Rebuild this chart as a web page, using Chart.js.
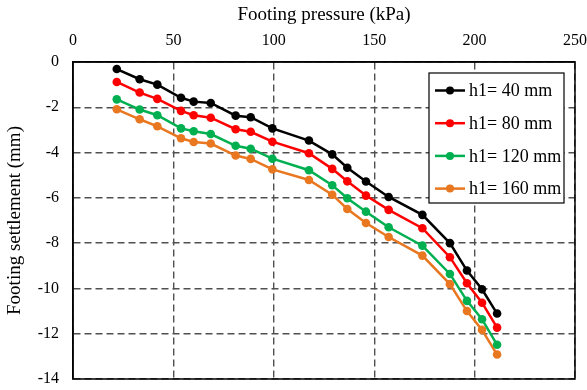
<!DOCTYPE html>
<html>
<head>
<meta charset="utf-8">
<script src="https://cdn.jsdelivr.net/npm/chart.js@4/dist/chart.umd.min.js"></script>
<style>
  html, body { margin: 0; padding: 0; background: #fff; }
  #wrap { width: 587px; height: 390px; position: relative; }
</style>
</head>
<body>
<div id="wrap"><canvas id="c" width="587" height="390"></canvas></div>
<script>
// Footing pressure (kPa) at each load step
const pressure = [21.8, 33.2, 42, 53.8, 60.1, 68.6, 81, 88.5, 99.3, 117.5, 129.1, 136.6, 145.9, 157.2, 174, 187.7, 196.2, 203.7, 211.2];

// Footing settlement (mm) for each embedment depth h1
const settle40  = [-0.31, -0.76, -1.0, -1.58, -1.75, -1.81, -2.37, -2.44, -2.93, -3.47, -4.08, -4.67, -5.28, -5.96, -6.75, -8.0, -9.21, -10.04, -11.11];
const settle80  = [-0.88, -1.35, -1.63, -2.16, -2.35, -2.46, -2.97, -3.08, -3.52, -4.03, -4.72, -5.27, -5.9, -6.53, -7.34, -8.62, -9.77, -10.63, -11.73];
const settle120 = [-1.65, -2.1, -2.35, -2.93, -3.06, -3.18, -3.7, -3.83, -4.27, -4.78, -5.44, -6.02, -6.61, -7.3, -8.11, -9.36, -10.55, -11.36, -12.49];
const settle160 = [-2.09, -2.53, -2.84, -3.37, -3.53, -3.6, -4.13, -4.28, -4.74, -5.21, -5.86, -6.49, -7.11, -7.73, -8.55, -9.81, -11.0, -11.83, -12.92];

const seriesLabels = ['h1= 40 mm', 'h1= 80 mm', 'h1= 120 mm', 'h1= 160 mm'];
const seriesColors = ['#000000', '#FF0000', '#00B050', '#E8771F'];
const seriesValues = [settle40, settle80, settle120, settle160];

const xTicks = [0, 50, 100, 150, 200, 250];
const yTicks = [0, -2, -4, -6, -8, -10, -12, -14];

const FONT = "'Liberation Serif', 'Times New Roman', serif";

const datasets = seriesValues.map((vals, i) => ({
  label: seriesLabels[i],
  data: pressure.map((p, j) => ({ x: p, y: vals[j] })),
  borderColor: seriesColors[i],
  backgroundColor: seriesColors[i],
  pointBackgroundColor: seriesColors[i],
  pointBorderColor: seriesColors[i],
  borderWidth: 2.5,
  pointRadius: 4.3,
  pointBorderWidth: 0,
  tension: 0,
  clip: false
}));

// Solid frame around the plot area
const framePlugin = {
  id: 'frame',
  afterDatasetsDraw(chart) {
    const { ctx, chartArea: a } = chart;
    ctx.save();
    ctx.strokeStyle = '#000';
    ctx.lineWidth = 1.5;
    ctx.setLineDash([]);
    ctx.strokeRect(a.left, a.top, a.right - a.left, a.bottom - a.top);
    ctx.restore();
  }
};

// Boxed legend inside the upper right of the plot
const boxLegend = {
  id: 'boxLegend',
  afterDraw(chart) {
    const { ctx } = chart;
    const left = 429, top = 73, right = 564, bottom = 203;
    ctx.save();
    ctx.fillStyle = '#fff';
    ctx.fillRect(left, top, right - left, bottom - top);
    ctx.strokeStyle = '#000';
    ctx.lineWidth = 1.2;
    ctx.setLineDash([]);
    ctx.strokeRect(left, top, right - left, bottom - top);
    ctx.font = '18px ' + FONT;
    ctx.textBaseline = 'middle';
    ctx.textAlign = 'left';
    chart.data.datasets.forEach((ds, i) => {
      const y = 90.5 + i * 32.7;
      ctx.strokeStyle = ds.borderColor;
      ctx.lineWidth = 2.5;
      ctx.beginPath();
      ctx.moveTo(435, y);
      ctx.lineTo(465, y);
      ctx.stroke();
      ctx.fillStyle = ds.borderColor;
      ctx.beginPath();
      ctx.arc(450, y, 4, 0, Math.PI * 2);
      ctx.fill();
      ctx.fillStyle = '#000';
      ctx.fillText(ds.label, 469, y + 1);
    });
    ctx.restore();
  }
};

new Chart(document.getElementById('c'), {
  type: 'line',
  data: { datasets },
  plugins: [framePlugin, boxLegend],
  options: {
    responsive: false,
    animation: false,
    layout: { padding: { left: 0, right: 12, top: 0, bottom: 11 } },
    plugins: { legend: { display: false }, tooltip: { enabled: false } },
    scales: {
      x: {
        type: 'linear',
        position: 'top',
        min: 0, max: 250,
        afterBuildTicks(scale) { scale.ticks = xTicks.map(v => ({ value: v })); },
        afterFit(scale) {
          scale.height = 62;
          scale.paddingLeft = 0;
          scale.paddingRight = 0;
        },
        ticks: { color: '#000', font: { family: FONT, size: 16 }, padding: 12, maxRotation: 0 },
        grid: { color: '#505050', lineWidth: 1.4, drawTicks: false },
        border: { display: true, color: '#000', width: 1.5, dash: [7, 4] },
        title: { display: true, text: 'Footing pressure (kPa)', color: '#000', font: { family: FONT, size: 19 }, padding: { top: 4, bottom: 0 } }
      },
      y: {
        type: 'linear',
        min: -14, max: 0,
        afterBuildTicks(scale) { scale.ticks = yTicks.map(v => ({ value: v })); },
        afterFit(scale) {
          scale.width = 73;
          scale.paddingTop = 0;
          scale.paddingBottom = 0;
        },
        ticks: { color: '#000', font: { family: FONT, size: 16 }, padding: 14 },
        grid: { color: '#505050', lineWidth: 1.4, drawTicks: false },
        border: { display: true, color: '#000', width: 1.5, dash: [7, 4] },
        title: { display: true, text: 'Footing settlement (mm)', color: '#000', font: { family: FONT, size: 19 }, padding: { top: 4, bottom: 4 } }
      }
    }
  }
});
</script>
</body>
</html>
